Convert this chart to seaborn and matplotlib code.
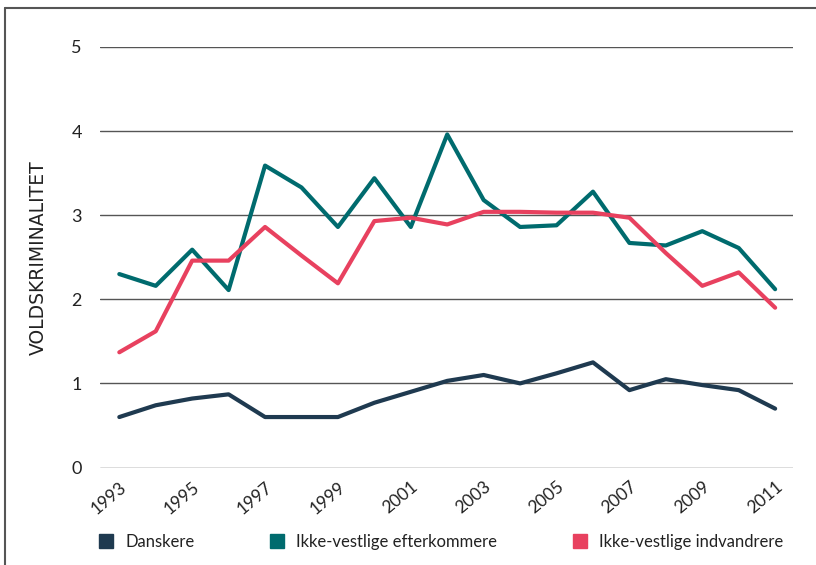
import matplotlib
matplotlib.use("Agg")
import matplotlib.pyplot as plt
from matplotlib.lines import Line2D
import seaborn as sns
import pandas as pd

years = list(range(1993, 2012))
danskere = [0.60, 0.74, 0.82, 0.87, 0.60, 0.60, 0.60, 0.77, 0.90, 1.03, 1.10,
            1.00, 1.12, 1.25, 0.92, 1.05, 0.98, 0.92, 0.70]
efterkommere = [2.30, 2.16, 2.59, 2.11, 3.59, 3.33, 2.86, 3.44, 2.86, 3.96, 3.18,
                2.86, 2.88, 3.28, 2.67, 2.64, 2.81, 2.61, 2.12]
indvandrere = [1.37, 1.62, 2.46, 2.46, 2.86, 2.52, 2.19, 2.93, 2.97, 2.89, 3.04,
               3.04, 3.03, 3.03, 2.97, 2.55, 2.16, 2.32, 1.90]
series_names = ["Danskere", "Ikke-vestlige efterkommere", "Ikke-vestlige indvandrere"]
colors = ["#1f3a50", "#006b6e", "#e8415f"]
year_ticks = list(range(1993, 2012, 2))
y_ticks = [0, 1, 2, 3, 4, 5]

df = pd.DataFrame({
    "year": years * 3,
    "value": danskere + efterkommere + indvandrere,
    "group": [series_names[0]] * len(years) + [series_names[1]] * len(years)
             + [series_names[2]] * len(years),
})

sns.set_style("white")
plt.rcParams["font.family"] = ["Lato", "DejaVu Sans"]

fig = plt.figure(figsize=(8.16, 5.65), dpi=100)
ax = fig.add_axes([100 / 816, 1 - 467.5 / 565, 693 / 816, 420.5 / 565])

sns.lineplot(data=df, x="year", y="value", hue="group", hue_order=series_names,
             palette=colors, linewidth=3.0, ax=ax, legend=False, zorder=3)

ax.set_xlim(1992.47, 2011.49)
ax.set_ylim(0, 5)
ax.set_yticks(y_ticks)
ax.set_xticks(year_ticks)
ax.set_xticklabels([str(y) for y in year_ticks], rotation=40, ha="right",
                   rotation_mode="anchor", fontsize=12.5, color="#222222")
ax.set_yticklabels([str(v) for v in y_ticks], fontsize=13, color="#222222")
ax.tick_params(axis="both", length=0)
ax.tick_params(axis="y", pad=13)
ax.tick_params(axis="x", pad=8)
ax.grid(False)
for v in y_ticks:
    ax.axhline(v, color="#555555", linewidth=1.0, zorder=1)
for s in ax.spines.values():
    s.set_visible(False)
ax.set_xlabel("")
ylab = ax.set_ylabel("VOLDSKRIMINALITET", fontsize=13.5, color="#222222", labelpad=17)
ylab.set_fontfamily(["DejaVu Sans"])

# legend with square patches along the bottom
handles = [Line2D([0], [0], marker="s", linestyle="none", markersize=10,
                  markerfacecolor=c, markeredgecolor=c) for c in colors]
fig.legend(handles, series_names, loc="center left", bbox_to_anchor=(83 / 816, 1 - 542 / 565),
           ncol=3, frameon=False, fontsize=12, handletextpad=0.64,
           columnspacing=4.45, handlelength=1.0, labelcolor="#222222")

# outer frame (left and top edges)
fig.add_artist(Line2D([5 / 816, 5 / 816], [0, 1 - 8 / 565], color="#555555", linewidth=1.5))
fig.add_artist(Line2D([5 / 816, 1], [1 - 8 / 565, 1 - 8 / 565], color="#555555", linewidth=1.5))

fig.savefig("out.png", dpi=100)
